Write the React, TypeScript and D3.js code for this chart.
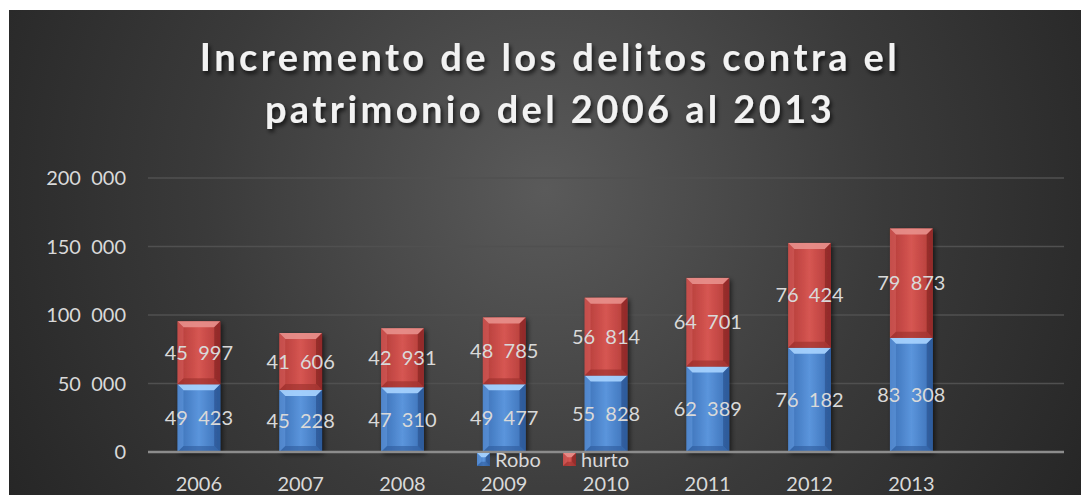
import React from "react";
import * as d3 from "d3";

const years = ["2006", "2007", "2008", "2009", "2010", "2011", "2012", "2013", ""];
const robo = [49423, 45228, 47310, 49477, 55828, 62389, 76182, 83308];
const hurto = [45997, 41606, 42931, 48785, 56814, 64701, 76424, 79873];
const yTicks = [0, 50000, 100000, 150000, 200000];
const seriesNames = ["Robo", "hurto"];
const titleLines = ["Incremento de los delitos contra el", "patrimonio del 2006 al 2013"];

const W = 1081;
const H = 495;
const FONT = "Lato, 'Open Sans', sans-serif";

const fmt = (v: number) => {
  const s = d3.format(",")(v);
  return s.replace(/,/g, "\u00a0\u00a0");
};

const palettes = {
  Robo: { face0: "#3a6fb5", face1: "#5b95dc", top: "#a8d4ff", left: "#6aa2e6", right: "#2a5390", bottom: "#2e5c9c" },
  hurto: { face0: "#b23b38", face1: "#d65652", top: "#e8908c", left: "#dc6763", right: "#862523", bottom: "#9a2e2b" },
};

function BevelBar({ x, y, w, h, name }: { x: number; y: number; w: number; h: number; name: string }) {
  const p = (palettes as any)[name];
  const b = Math.min(6, h / 3);
  const x1 = x + w;
  const y1 = y + h;
  const pts = (arr: number[][]) => arr.map((q) => q.join(",")).join(" ");
  return (
    <g>
      <rect x={x} y={y} width={w} height={h} fill={`url(#face-${name})`} />
      <polygon points={pts([[x, y], [x1, y], [x1 - b, y + b], [x + b, y + b]])} fill={p.top} opacity={0.9} />
      <polygon points={pts([[x, y], [x + b, y + b], [x + b, y1 - b], [x, y1]])} fill={p.left} opacity={0.45} />
      <polygon points={pts([[x1, y], [x1 - b, y + b], [x1 - b, y1 - b], [x1, y1]])} fill={p.right} opacity={0.7} />
      <polygon points={pts([[x, y1], [x + b, y1 - b], [x1 - b, y1 - b], [x1, y1]])} fill={p.bottom} opacity={0.6} />
    </g>
  );
}

export default function App() {
  const x = d3.scaleBand<string>().domain(years).range([148, 1064]).paddingInner(0.58).paddingOuter(0.29);
  const y = d3.scaleLinear().domain([0, 200000]).range([452, 178]);
  const bw = x.bandwidth();

  return (
    <svg width={W} height={H} style={{ position: "absolute", left: 0, top: 0 }}>
      <defs>
        <radialGradient id="bg" gradientUnits="userSpaceOnUse" cx={545} cy={190} r={620}>
          <stop offset="0" stopColor="#5a5a5a" />
          <stop offset="0.55" stopColor="#3a3a3a" />
          <stop offset="1" stopColor="#262626" />
        </radialGradient>
        {seriesNames.map((n) => {
          const p = (palettes as any)[n];
          return (
            <linearGradient key={n} id={`face-${n}`} x1="0" x2="1" y1="0" y2="0">
              <stop offset="0" stopColor={p.face0} />
              <stop offset="0.5" stopColor={p.face1} />
              <stop offset="1" stopColor={p.face0} />
            </linearGradient>
          );
        })}
        <filter id="tshadow" x="-10%" y="-30%" width="120%" height="160%">
          <feDropShadow dx="2" dy="3" stdDeviation="2" floodColor="#000" floodOpacity="0.7" />
        </filter>
        <filter id="bshadow" x="-30%" y="-10%" width="160%" height="120%">
          <feDropShadow dx="2" dy="2" stdDeviation="2.5" floodColor="#000" floodOpacity="0.6" />
        </filter>
      </defs>
      <rect x={0} y={0} width={W} height={H} fill="#ffffff" />
      <rect x={9} y={10} width={W - 9} height={H - 10} fill="url(#bg)" />

      {titleLines.map((t, i) => (
        <text
          key={i}
          x={550}
          y={71 + i * 52}
          textAnchor="middle"
          fontFamily={FONT}
          fontWeight="bold"
          fontSize={38}
          letterSpacing={3.4}
          fill="#f2f2f2"
          filter="url(#tshadow)"
        >
          {t}
        </text>
      ))}

      {yTicks.filter((t) => t > 0).map((t) => (
        <line key={t} x1={148} x2={1064} y1={y(t)} y2={y(t)} stroke="#505050" strokeWidth={1.3} />
      ))}
      {yTicks.map((t) => (
        <text key={"l" + t} x={126} y={y(t)} dy="0.35em" textAnchor="end" fontFamily={FONT} fontSize={20} fill="#d9d9d9">
          {fmt(t)}
        </text>
      ))}

      {robo.map((r, i) => {
        const cx = x(years[i])!;
        const hv = hurto[i];
        return (
          <g key={i} filter="url(#bshadow)">
            <BevelBar x={cx} y={y(r)} w={bw} h={y(0) - y(r)} name="Robo" />
            <BevelBar x={cx} y={y(r + hv)} w={bw} h={y(r) - y(r + hv)} name="hurto" />
          </g>
        );
      })}

      <line x1={148} x2={1064} y1={y(0)} y2={y(0)} stroke="#8c8c8c" strokeWidth={2.5} />

      {robo.map((r, i) => {
        const cx = x(years[i])! + bw / 2;
        const hv = hurto[i];
        return (
          <g key={"d" + i} fontFamily={FONT} fontSize={20} fill="#d9d9d9" textAnchor="middle">
            <text x={cx} y={(y(0) + y(r)) / 2} dy="0.35em">{fmt(r)}</text>
            <text x={cx} y={(y(r) + y(r + hv)) / 2} dy="0.35em">{fmt(hv)}</text>
          </g>
        );
      })}

      {years.filter((yy) => yy).map((yy) => (
        <text key={yy} x={x(yy)! + bw / 2} y={484} dy="0.35em" textAnchor="middle" fontFamily={FONT} fontSize={20} fill="#d9d9d9">
          {yy}
        </text>
      ))}

      {seriesNames.map((n, i) => {
        const lx = 477 + i * 86;
        return (
          <g key={n}>
            <BevelBar x={lx} y={453} w={13} h={13} name={n} />
            <text x={lx + 18} y={460} dy="0.35em" fontFamily={FONT} fontSize={20} fill="#d9d9d9">
              {n}
            </text>
          </g>
        );
      })}
    </svg>
  );
}
